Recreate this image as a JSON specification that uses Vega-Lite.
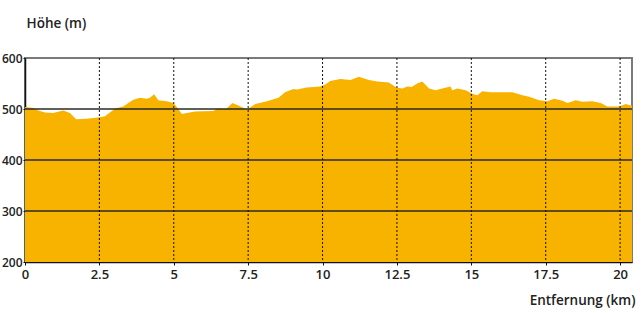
{
  "$schema": "https://vega.github.io/schema/vega-lite/v6.json",
  "width": 607,
  "height": 204,
  "autosize": "none",
  "padding": {"left": 25, "top": 58, "right": 12, "bottom": 51},
  "config": {
    "view": {"stroke": "#7a7a7a", "strokeWidth": 2},
    "font": "Open Sans",
    "axis": {"labelFont": "Open Sans", "titleFont": "Open Sans", "labelColor": "#222", "titleColor": "#222", "labelFontWeight": 600, "titleFontWeight": 600}
  },
  "datasets": {
    "profile": [
      {"km": 0, "h": 504}, {"km": 0.28, "h": 502}, {"km": 0.45, "h": 497}, {"km": 0.67, "h": 493},
      {"km": 0.95, "h": 492}, {"km": 1.15, "h": 495}, {"km": 1.29, "h": 497}, {"km": 1.51, "h": 492},
      {"km": 1.72, "h": 480}, {"km": 2.07, "h": 481}, {"km": 2.52, "h": 484}, {"km": 2.69, "h": 486},
      {"km": 3.03, "h": 501}, {"km": 3.3, "h": 505}, {"km": 3.64, "h": 518}, {"km": 3.87, "h": 522},
      {"km": 4.09, "h": 520}, {"km": 4.2, "h": 522}, {"km": 4.34, "h": 529}, {"km": 4.48, "h": 517},
      {"km": 4.76, "h": 515}, {"km": 4.99, "h": 512}, {"km": 5.1, "h": 504}, {"km": 5.27, "h": 490},
      {"km": 5.44, "h": 492}, {"km": 5.72, "h": 495}, {"km": 6.33, "h": 496}, {"km": 6.5, "h": 502},
      {"km": 6.67, "h": 500}, {"km": 6.78, "h": 501}, {"km": 6.97, "h": 512}, {"km": 7.17, "h": 507},
      {"km": 7.46, "h": 499}, {"km": 7.74, "h": 510}, {"km": 8.13, "h": 515}, {"km": 8.52, "h": 522},
      {"km": 8.74, "h": 533}, {"km": 9.02, "h": 539}, {"km": 9.14, "h": 538}, {"km": 9.47, "h": 542},
      {"km": 9.92, "h": 544}, {"km": 10.09, "h": 548}, {"km": 10.26, "h": 555}, {"km": 10.6, "h": 559},
      {"km": 10.94, "h": 557}, {"km": 11.22, "h": 563}, {"km": 11.56, "h": 557}, {"km": 11.84, "h": 554},
      {"km": 12.23, "h": 552}, {"km": 12.48, "h": 542}, {"km": 12.68, "h": 540}, {"km": 12.85, "h": 544},
      {"km": 13.0, "h": 543}, {"km": 13.18, "h": 550}, {"km": 13.35, "h": 554}, {"km": 13.58, "h": 540},
      {"km": 13.8, "h": 537}, {"km": 14.02, "h": 540}, {"km": 14.3, "h": 544}, {"km": 14.36, "h": 537},
      {"km": 14.53, "h": 540}, {"km": 14.81, "h": 537}, {"km": 15.03, "h": 530}, {"km": 15.2, "h": 527},
      {"km": 15.37, "h": 535}, {"km": 15.65, "h": 533}, {"km": 16.38, "h": 533}, {"km": 16.72, "h": 527},
      {"km": 16.94, "h": 524}, {"km": 17.28, "h": 517}, {"km": 17.56, "h": 515}, {"km": 17.78, "h": 520},
      {"km": 18.07, "h": 516}, {"km": 18.23, "h": 512}, {"km": 18.51, "h": 517}, {"km": 18.73, "h": 514},
      {"km": 19.07, "h": 515}, {"km": 19.35, "h": 512}, {"km": 19.57, "h": 505}, {"km": 19.97, "h": 505},
      {"km": 20.19, "h": 510}, {"km": 20.36, "h": 507}, {"km": 20.4, "h": 507}
    ],
    "hgrid": [{"h": 300}, {"h": 400}, {"h": 500}],
    "vgrid": [{"km": 2.5}, {"km": 5}, {"km": 7.5}, {"km": 10}, {"km": 12.5}, {"km": 15}, {"km": 17.5}, {"km": 20}]
  },
  "layer": [
    {
      "data": {"name": "profile"},
      "mark": {"type": "area", "color": "#F8B200", "interpolate": "linear"},
      "encoding": {
        "x": {"field": "km", "type": "quantitative",
              "scale": {"domain": [0, 20.4], "nice": false, "zero": false},
              "axis": {"values": [0, 2.5, 5, 7.5, 10, 12.5, 15, 17.5, 20], "format": ".1~f", "grid": false,
                       "domainColor": "#111", "domainWidth": 1.5, "tickColor": "#111", "tickSize": 3,
                       "labelFontSize": 13, "labelPadding": 3, "labelFlush": false,
                       "title": "Entfernung (km)", "titleFontSize": 13.5, "titleAlign": "right",
                       "titleAnchor": null, "titleX": 610, "titleY": 42, "titleBaseline": "alphabetic"}},
        "y": {"field": "h", "type": "quantitative",
              "scale": {"domain": [200, 600], "nice": false, "zero": false},
              "axis": {"values": [200, 300, 400, 500, 600], "grid": false,
                       "domainColor": "#111", "domainWidth": 1.5, "tickColor": "#111", "tickSize": 2,
                       "labelFontSize": 12, "labelPadding": 1, "labelFlush": false,
                       "title": "Höhe (m)", "titleFontSize": 13.5, "titleAngle": 0, "titleAlign": "left",
                       "titleAnchor": null, "titleX": 1, "titleY": -31, "titleBaseline": "alphabetic"}},
        "y2": {"datum": 200}
      }
    },
    {
      "data": {"name": "hgrid"},
      "mark": {"type": "rule", "color": "#2a2a2a", "strokeWidth": 1.5},
      "encoding": {"y": {"field": "h", "type": "quantitative"}}
    },
    {
      "data": {"name": "vgrid"},
      "mark": {"type": "rule", "color": "#111", "strokeWidth": 1, "strokeDash": [2, 2]},
      "encoding": {"x": {"field": "km", "type": "quantitative"}}
    }
  ]
}
